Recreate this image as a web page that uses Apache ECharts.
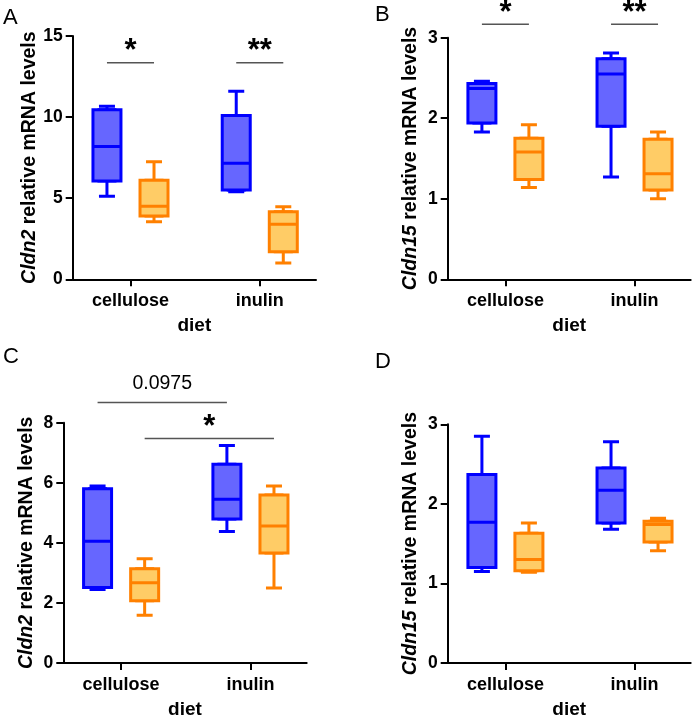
<!DOCTYPE html>
<html>
<head>
<meta charset="utf-8">
<script src="https://cdn.jsdelivr.net/npm/echarts@6/dist/echarts.min.js"></script>
<style>
  html, body { margin: 0; padding: 0; background: #ffffff; }
  #main { width: 692px; height: 720px; }
</style>
</head>
<body>
<div id="main"></div>
<script>
// ---------------- DATA ----------------
const categories = ['cellulose', 'inulin'];
const panelLetters = ['A', 'B', 'C', 'D'];
const genes = ['Cldn2', 'Cldn15', 'Cldn2', 'Cldn15'];
const yMax = [15, 3, 8, 3];
const yInterval = [5, 1, 2, 1];
const xAxisTitle = 'diet';

// each box: [min, Q1, median, Q3, max]; one entry per diet category
const A_blue   = [[5.12, 6.06, 8.18, 10.46, 10.67], [5.40, 5.50, 7.15, 10.10, 11.60]];
const A_orange = [[3.55, 3.90, 4.50, 6.10, 7.25],   [1.00, 1.70, 3.40, 4.17, 4.48]];
const B_blue   = [[1.83, 1.94, 2.37, 2.43, 2.46],   [1.27, 1.90, 2.55, 2.74, 2.81]];
const B_orange = [[1.14, 1.24, 1.58, 1.75, 1.92],   [1.00, 1.11, 1.31, 1.74, 1.83]];
const C_blue   = [[2.45, 2.51, 4.05, 5.80, 5.89],   [4.38, 4.79, 5.45, 6.62, 7.24]];
const C_orange = [[1.59, 2.07, 2.67, 3.14, 3.47],   [2.50, 3.66, 4.56, 5.59, 5.89]];
const D_blue   = [[1.15, 1.20, 1.77, 2.37, 2.85],   [1.68, 1.76, 2.17, 2.45, 2.78]];
const D_orange = [[1.14, 1.16, 1.30, 1.63, 1.76],   [1.41, 1.52, 1.74, 1.78, 1.82]];

// significance bars: [panel, fromCategory, fromGroup, toCategory, toGroup, yValue, label]
const sigBars = [
  [0, 0, 0, 0, 1, 13.35, '*'],
  [0, 1, 0, 1, 1, 13.35, '**'],
  [1, 0, 0, 0, 1, 3.167, '*'],
  [1, 1, 0, 1, 1, 3.167, '**'],
  [2, 0, 0, 1, 0, 8.67, '0.0975'],
  [2, 0, 1, 1, 1, 7.47, '*']
];

// ---------------- STYLE / LAYOUT ----------------
const FONT = '"Liberation Sans", Arial, Helvetica, sans-serif';
const GRID_BOXES = [
  { left: 72.7,  top: 36,    width: 243.3, height: 243.3 },
  { left: 447.7, top: 37.7,  width: 243,   height: 241.6 },
  { left: 63.3,  top: 422.7, width: 243.4, height: 242.3 },
  { left: 447.7, top: 424.3, width: 243,   height: 241.7 }
];
const Y_NAME_GAP = [31, 27, 27, 27];
const LETTER_POS = [[3, 7], [375, 4], [3, 346], [375, 351]];
const X_MIN = 0.553, X_MAX = 2.435;
const GROUP_OFFSET = 0.182;
const groupShift = [-GROUP_OFFSET, GROUP_OFFSET];
const STYLES = [
  { border: '#0000ff', fill: '#6666ff' },
  { border: '#ff8000', fill: '#ffcc66' }
];
const panelsData = [[A_blue, A_orange], [B_blue, B_orange], [C_blue, C_orange], [D_blue, D_orange]];

const chart = echarts.init(document.getElementById('main'), null, { renderer: 'canvas' });

const grids = [], xAxes = [], yAxes = [], series = [];
panelsData.forEach((groups, p) => {
  grids.push(Object.assign({ containLabel: false }, GRID_BOXES[p]));
  xAxes.push({
    gridIndex: p, type: 'value', min: X_MIN, max: X_MAX, position: 'bottom',
    name: xAxisTitle, nameLocation: 'middle', nameGap: 37,
    nameTextStyle: { fontFamily: FONT, fontWeight: 'bold', fontSize: 19, color: '#000' },
    splitLine: { show: false },
    axisLine: { show: true, onZero: false, lineStyle: { color: '#000', width: 2 } },
    axisTick: { show: true, customValues: [1, 2], length: 7, lineStyle: { color: '#000', width: 2 } },
    axisLabel: {
      customValues: [1, 2], margin: 13, color: '#000', fontFamily: FONT, fontWeight: 'bold', fontSize: 18,
      formatter: v => categories[Math.round(v) - 1] || ''
    }
  });
  xAxes.push({ gridIndex: p, type: 'value', min: X_MIN, max: X_MAX, position: 'top', show: false });
  yAxes.push({
    gridIndex: p, type: 'value', min: 0, max: yMax[p], interval: yInterval[p],
    name: '{i|' + genes[p] + '} relative mRNA levels', nameLocation: 'middle', nameGap: Y_NAME_GAP[p],
    nameTextStyle: {
      fontFamily: FONT, fontWeight: 'bold', fontSize: 19.5, color: '#000',
      rich: { i: { fontFamily: FONT, fontStyle: 'italic', fontWeight: 'bold', fontSize: 19.5, color: '#000' } }
    },
    splitLine: { show: false },
    axisLine: { show: true, onZero: false, lineStyle: { color: '#000', width: 2 } },
    axisTick: { show: true, length: 7, lineStyle: { color: '#000', width: 2 } },
    axisLabel: { margin: 10, color: '#000', fontFamily: FONT, fontWeight: 'bold', fontSize: 17.5 }
  });
  const whisk = [], boxes = [];
  groups.forEach((g, gi) => g.forEach((s, ci) => {
    const x = ci + 1 + groupShift[gi];
    const st = { color: STYLES[gi].fill, borderColor: STYLES[gi].border, borderWidth: 3 };
    whisk.push({ value: [x, s[0], s[1], s[2], s[3], s[4]], itemStyle: st });
    boxes.push({ value: [x, s[1], s[1], s[2], s[3], s[3]], itemStyle: st });
  }));
  series.push({
    type: 'boxplot', xAxisIndex: 2 * p + 1, yAxisIndex: p, boxWidth: [16, 16],
    silent: true, z: 2, data: whisk, emphasis: { disabled: true }
  });
  series.push({
    type: 'boxplot', xAxisIndex: 2 * p, yAxisIndex: p, boxWidth: [28, 28],
    silent: true, z: 3, data: boxes, emphasis: { disabled: true }
  });
});

chart.setOption({
  animation: false,
  backgroundColor: '#ffffff',
  grid: grids, xAxis: xAxes, yAxis: yAxes, series: series
});

// annotations positioned through the axes' scales
const graphics = [];
panelLetters.forEach((L, p) => {
  graphics.push({
    type: 'text', x: LETTER_POS[p][0], y: LETTER_POS[p][1], silent: true,
    style: { text: L, fontFamily: FONT, fontSize: 22, fill: '#000', align: 'left', verticalAlign: 'top' }
  });
});
sigBars.forEach(([p, c1, g1, c2, g2, yv, label]) => {
  const finder = { xAxisIndex: 2 * p, yAxisIndex: p };
  const a = chart.convertToPixel(finder, [c1 + 1 + groupShift[g1], yv]);
  const b = chart.convertToPixel(finder, [c2 + 1 + groupShift[g2], yv]);
  graphics.push({
    type: 'line', silent: true,
    shape: { x1: a[0], y1: a[1], x2: b[0], y2: b[1] },
    style: { stroke: '#555', lineWidth: 1.5 }
  });
  const isStar = label.indexOf('*') === 0;
  graphics.push({
    type: 'text', silent: true, x: (a[0] + b[0]) / 2, y: a[1] - (isStar ? 11 : 19),
    style: {
      text: label, fontFamily: FONT, fontSize: isStar ? 31 : 19.5,
      fontWeight: isStar ? 'bold' : 'normal', fill: '#000', align: 'center', verticalAlign: 'middle'
    }
  });
});
chart.setOption({ graphic: graphics });
</script>
</body>
</html>
